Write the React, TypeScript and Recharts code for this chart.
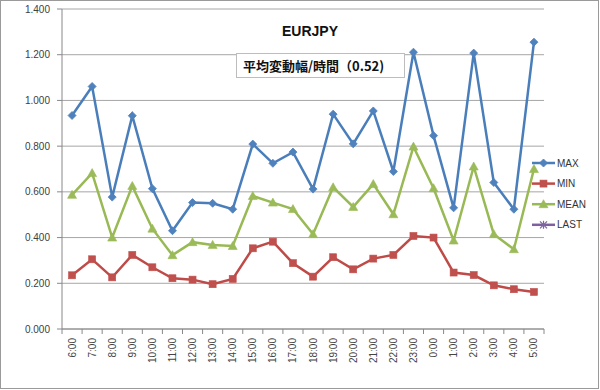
import React from "react";
import { LineChart, Line, XAxis, YAxis, CartesianGrid } from "recharts";

const categories = ["6:00","7:00","8:00","9:00","10:00","11:00","12:00","13:00","14:00","15:00","16:00","17:00","18:00","19:00","20:00","21:00","22:00","23:00","0:00","1:00","2:00","3:00","4:00","5:00"];
const maxValues = [0.934,1.061,0.577,0.933,0.614,0.430,0.553,0.550,0.524,0.809,0.725,0.774,0.612,0.940,0.810,0.954,0.689,1.211,0.846,0.530,1.207,0.641,0.524,1.255];
const minValues = [0.235,0.305,0.226,0.324,0.270,0.222,0.216,0.196,0.219,0.353,0.382,0.288,0.229,0.314,0.261,0.308,0.324,0.407,0.400,0.247,0.236,0.191,0.174,0.162];
const meanValues = [0.587,0.682,0.400,0.626,0.439,0.323,0.380,0.368,0.363,0.582,0.553,0.525,0.415,0.620,0.534,0.634,0.502,0.798,0.616,0.387,0.711,0.415,0.349,0.700];
const lastValues: (number | null)[] = categories.map(() => null);
const seriesNames = ["MAX", "MIN", "MEAN", "LAST"];
const yTicks = [0, 0.2, 0.4, 0.6, 0.8, 1.0, 1.2, 1.4];
const title = "EURJPY";
const boxText = "平均変動幅/時間（0.52)";

const data = categories.map((c, i) => ({
  i,
  label: c,
  MAX: maxValues[i],
  MIN: minValues[i],
  MEAN: meanValues[i],
  LAST: lastValues[i],
}));
const xTicks: number[] = [];
categories.forEach((_, i) => { xTicks.push(i - 0.5); xTicks.push(i); });
xTicks.push(categories.length - 0.5);

const COLORS: Record<string, { line: string; mark: string }> = {
  MAX: { line: "#4A7EBB", mark: "#4F81BD" },
  MIN: { line: "#BE4B48", mark: "#C0504D" },
  MEAN: { line: "#98B954", mark: "#9BBB59" },
  LAST: { line: "#7D60A0", mark: "#8064A2" },
};

function Marker({ name, cx, cy }: { name: string; cx: number; cy: number }) {
  const c = COLORS[name].mark;
  if (cx == null || cy == null || isNaN(cx) || isNaN(cy)) return null;
  if (name === "MAX") {
    const r = 4;
    return <polygon points={`${cx},${cy - r} ${cx + r},${cy} ${cx},${cy + r} ${cx - r},${cy}`} fill={c} stroke={c} strokeWidth={0.8} />;
  }
  if (name === "MIN") {
    return <rect x={cx - 3.5} y={cy - 3.5} width={7} height={7} fill={c} stroke={c} strokeWidth={0.6} />;
  }
  if (name === "MEAN") {
    return <polygon points={`${cx},${cy - 4.5} ${cx + 4.5},${cy + 3.5} ${cx - 4.5},${cy + 3.5}`} fill={c} stroke={c} strokeWidth={0.6} />;
  }
  return (
    <g stroke={c} strokeWidth={1.2}>
      <line x1={cx - 3.5} y1={cy - 3.5} x2={cx + 3.5} y2={cy + 3.5} />
      <line x1={cx - 3.5} y1={cy + 3.5} x2={cx + 3.5} y2={cy - 3.5} />
      <line x1={cx} y1={cy - 4} x2={cx} y2={cy + 4} />
    </g>
  );
}

const makeDot = (name: string) => (props: any) => (
  <Marker key={`${name}-${props.index}`} name={name} cx={props.cx} cy={props.cy} />
);

const XTick = (props: any) => {
  const { x, y, payload } = props;
  const v = payload.value;
  if (Number.isInteger(v)) {
    return (
      <text
        x={x}
        y={y + 4}
        transform={`rotate(-90 ${x} ${y + 4})`}
        textAnchor="end"
        dy="0.35em"
        fontSize={10}
        fill="#444"
        fontFamily="Liberation Sans, Arial, sans-serif"
      >
        {categories[v]}
      </text>
    );
  }
  return <line x1={x} x2={x} y1={y - 5} y2={y} stroke="#888" strokeWidth={1} />;
};

function LegendBox() {
  return (
    <svg width={70} height={90} style={{ position: "absolute", left: 530, top: 153 }}>
      {seriesNames.map((name, k) => {
        const cy = 10 + k * 20.6;
        return (
          <g key={name}>
            <line x1={2} x2={25} y1={cy} y2={cy} stroke={COLORS[name].line} strokeWidth={2.5} />
            <Marker name={name} cx={13.5} cy={cy} />
            <text x={27} y={cy} dy="0.35em" fontSize={10} fill="#333" fontFamily="Liberation Sans, Arial, sans-serif">
              {name}
            </text>
          </g>
        );
      })}
    </svg>
  );
}

export default function App() {
  return (
    <div style={{ position: "absolute", left: 0, top: 0, width: 600, height: 390, background: "#fff" }}>
      <div style={{ position: "absolute", left: 0, top: 0, width: 599, height: 389, border: "1px solid #9a9a9a", boxSizing: "border-box" }} />
      <LineChart
        width={600}
        height={390}
        data={data}
        margin={{ top: 9, right: 56, bottom: 0, left: 0 }}
        style={{ fontFamily: "Liberation Sans, Arial, sans-serif" }}
      >
        <CartesianGrid horizontal vertical={false} stroke="#a6a6a6" strokeWidth={1} />
        <XAxis
          dataKey="i"
          type="number"
          domain={[-0.5, categories.length - 0.5]}
          ticks={xTicks}
          interval={0}
          tick={<XTick />}
          tickLine={false}
          tickSize={5}
          tickMargin={0}
          axisLine={{ stroke: "#888" }}
          height={61}
          allowDataOverflow
        />
        <YAxis
          domain={[0, 1.4]}
          ticks={yTicks}
          interval={0}
          width={62}
          tickSize={5}
          tickMargin={7}
          tickFormatter={(v: number) => v.toFixed(3)}
          tick={{ fontSize: 10, fill: "#404040" }}
          axisLine={{ stroke: "#888" }}
          tickLine={{ stroke: "#888" }}
        />
        {seriesNames.map((name) => (
          <Line
            key={name}
            dataKey={name}
            name={name}
            stroke={COLORS[name].line}
            strokeWidth={2.5}
            dot={makeDot(name)}
            isAnimationActive={false}
          />
        ))}
      </LineChart>
      <LegendBox />
      <div
        style={{
          position: "absolute",
          left: 250,
          top: 23,
          width: 120,
          textAlign: "center",
          fontFamily: "Liberation Sans, Arial, sans-serif",
          fontWeight: "bold",
          fontSize: 14,
          lineHeight: "17px",
          color: "#111",
        }}
      >
        {title}
      </div>
      <div
        style={{
          position: "absolute",
          left: 236,
          top: 53,
          width: 169,
          height: 25,
          boxSizing: "border-box",
          border: "1px solid #bdbdbd",
          background: "#fff",
          paddingLeft: 6,
          fontFamily: "'Noto Sans CJK JP', 'Noto Sans', sans-serif",
          fontWeight: "bold",
          fontSize: 13,
          lineHeight: "23px",
          color: "#111",
          whiteSpace: "nowrap",
        }}
      >
        {boxText}
      </div>
    </div>
  );
}
